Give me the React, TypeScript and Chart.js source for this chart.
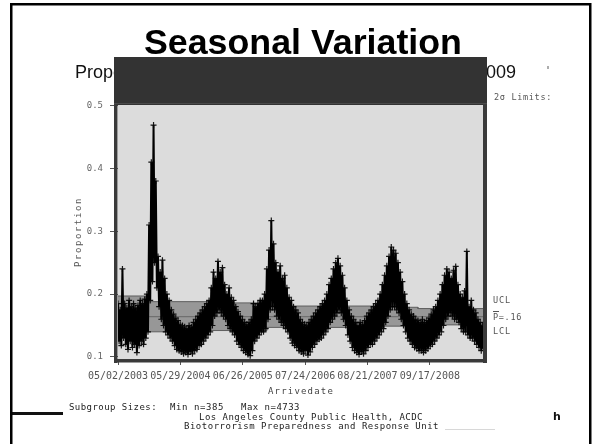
import { useEffect, useRef } from "react";
import { Chart, registerables } from "chart.js";

Chart.register(...registerables);

// ---------------- data ----------------
const START_DATE_UTC = Date.UTC(2003, 4, 2); // 05/02/2003
const SAMPLE_STEP_DAYS = 14;
const X_MAX_DAYS = 2300;
const xTickDays = [0, 393, 786, 1179, 1572, 1965];
const yTickValues = [0.1, 0.2, 0.3, 0.4, 0.5];

// upper / lower envelope of the daily proportion, read every 14 days
const upperEnvelope = [
  0.185, 0.175, 0.240, 0.185, 0.178, 0.190, 0.180, 0.185, 0.178, 0.182,
  0.190, 0.185, 0.192, 0.200, 0.310, 0.410, 0.469, 0.380, 0.260, 0.235,
  0.254, 0.225, 0.200, 0.190, 0.175, 0.168, 0.162, 0.158, 0.152, 0.150,
  0.148, 0.145, 0.150, 0.148, 0.155, 0.160, 0.165, 0.170, 0.175, 0.180,
  0.185, 0.190, 0.210, 0.235, 0.225, 0.252, 0.235, 0.242, 0.215, 0.200,
  0.210, 0.195, 0.190, 0.180, 0.172, 0.165, 0.160, 0.155, 0.152, 0.155,
  0.160, 0.185, 0.180, 0.185, 0.190, 0.190, 0.200, 0.240, 0.270, 0.317,
  0.280, 0.250, 0.235, 0.245, 0.225, 0.230, 0.210, 0.195, 0.190, 0.180,
  0.175, 0.170, 0.160, 0.155, 0.152, 0.150, 0.155, 0.160, 0.165, 0.170,
  0.175, 0.180, 0.185, 0.190, 0.200, 0.215, 0.225, 0.240, 0.250, 0.257,
  0.245, 0.230, 0.210, 0.190, 0.175, 0.165, 0.160, 0.155, 0.150, 0.155,
  0.152, 0.158, 0.165, 0.170, 0.175, 0.180, 0.185, 0.190, 0.200, 0.215,
  0.230, 0.245, 0.260, 0.275, 0.270, 0.265, 0.250, 0.235, 0.220, 0.200,
  0.185, 0.175, 0.168, 0.165, 0.160, 0.158, 0.155, 0.160, 0.155, 0.158,
  0.162, 0.168, 0.175, 0.180, 0.190, 0.200, 0.215, 0.230, 0.240, 0.235,
  0.225, 0.238, 0.244, 0.215, 0.200, 0.195, 0.205, 0.268, 0.180, 0.190,
  0.175, 0.170, 0.160, 0.155, 0.150,
];
const lowerEnvelope = [
  0.125, 0.118, 0.130, 0.120, 0.112, 0.125, 0.115, 0.120, 0.107, 0.118,
  0.125, 0.120, 0.130, 0.140, 0.190, 0.220, 0.250, 0.210, 0.180, 0.160,
  0.150, 0.140, 0.135, 0.130, 0.125, 0.118, 0.112, 0.110, 0.108, 0.105,
  0.107, 0.104, 0.108, 0.105, 0.110, 0.112, 0.118, 0.120, 0.125, 0.130,
  0.135, 0.140, 0.150, 0.165, 0.170, 0.175, 0.170, 0.165, 0.160, 0.150,
  0.145, 0.140, 0.135, 0.125, 0.120, 0.115, 0.110, 0.107, 0.104, 0.102,
  0.110, 0.125, 0.130, 0.135, 0.140, 0.140, 0.145, 0.160, 0.175, 0.180,
  0.175, 0.165, 0.160, 0.155, 0.150, 0.145, 0.140, 0.130, 0.122, 0.118,
  0.115, 0.110, 0.108, 0.105, 0.110, 0.103, 0.108, 0.115, 0.120, 0.125,
  0.128, 0.130, 0.135, 0.140, 0.145, 0.155, 0.160, 0.165, 0.170, 0.175,
  0.170, 0.160, 0.150, 0.135, 0.125, 0.115, 0.110, 0.107, 0.104, 0.108,
  0.105, 0.110, 0.115, 0.120, 0.120, 0.125, 0.130, 0.135, 0.140, 0.145,
  0.155, 0.165, 0.175, 0.180, 0.180, 0.175, 0.170, 0.160, 0.150, 0.140,
  0.130, 0.125, 0.120, 0.115, 0.113, 0.110, 0.110, 0.107, 0.110, 0.113,
  0.117, 0.120, 0.125, 0.130, 0.135, 0.140, 0.150, 0.160, 0.165, 0.170,
  0.165, 0.160, 0.160, 0.155, 0.145, 0.140, 0.140, 0.135, 0.130, 0.130,
  0.125, 0.120, 0.115, 0.110, 0.113,
];

// 2-sigma control limits (step changes with subgroup size)
const limitStartDays = [0, 176, 580, 939, 1619, 1890];
const uclValues = [0.197, 0.188, 0.186, 0.181, 0.179, 0.177];
const lclValues = [0.131, 0.140, 0.142, 0.147, 0.149, 0.151];
const centerValue = 0.164;

// ---------------- helpers ----------------
function fmtDate(days: number) {
  const d = new Date(START_DATE_UTC + Math.round(days) * 86400000);
  const mm = String(d.getUTCMonth() + 1).padStart(2, "0");
  const dd = String(d.getUTCDate()).padStart(2, "0");
  return `${mm}/${dd}/${d.getUTCFullYear()}`;
}

function stepPoints(values: number[]) {
  const pts: { x: number; y: number }[] = [];
  values.forEach((v, i) => {
    const s = limitStartDays[i];
    const e = i + 1 < limitStartDays.length ? limitStartDays[i + 1] : X_MAX_DAYS;
    pts.push({ x: s, y: v }, { x: e, y: v });
  });
  return pts;
}

function seriesPoints() {
  const pts: { x: number; y: number }[] = [];
  upperEnvelope.forEach((u, i) => {
    pts.push({ x: i * SAMPLE_STEP_DAYS, y: u });
    pts.push({ x: i * SAMPLE_STEP_DAYS + SAMPLE_STEP_DAYS / 2, y: lowerEnvelope[i] });
  });
  return pts;
}

function spacedText(
  ctx: CanvasRenderingContext2D,
  text: string,
  x: number,
  y: number,
  width: number,
  font: string,
  color: string
) {
  ctx.save();
  ctx.font = font;
  ctx.fillStyle = color;
  ctx.textBaseline = "middle";
  ctx.textAlign = "left";
  (ctx as any).letterSpacing = "0px";
  const natural = ctx.measureText(text).width;
  const sp = (width - natural) / Math.max(1, text.length);
  (ctx as any).letterSpacing = `${sp}px`;
  ctx.fillText(text, x, y);
  ctx.restore();
}

const decorPlugin = {
  id: "decor",
  beforeDraw(chart: any) {
    const { ctx, chartArea: a } = chart;
    ctx.save();
    ctx.fillStyle = "#ffffff";
    ctx.fillRect(0, 0, chart.width, chart.height);
    ctx.fillStyle = "#dcdcdc";
    ctx.fillRect(a.left, a.top, a.right - a.left, a.bottom - a.top);
    ctx.restore();
  },
  afterDraw(chart: any) {
    const { ctx, chartArea: a } = chart;
    ctx.save();

    // slide title
    ctx.fillStyle = "#000";
    ctx.textBaseline = "alphabetic";
    ctx.textAlign = "left";
    ctx.font = "bold 100px 'Liberation Sans', Arial, sans-serif";
    const tw = ctx.measureText("Seasonal Variation").width;
    const tSize = (100 * 318) / tw;
    ctx.font = `bold ${tSize}px 'Liberation Sans', Arial, sans-serif`;
    ctx.fillText("Seasonal Variation", 144, 54);

    // partly hidden subtitle
    ctx.font = "18px 'Liberation Sans', Arial, sans-serif";
    ctx.fillStyle = "#111";
    ctx.fillText("Proportion", 75, 78);
    ctx.textAlign = "right";
    ctx.fillText("2009", 516, 78);
    ctx.textAlign = "left";
    ctx.font = "10px 'DejaVu Sans Mono', monospace";
    ctx.fillStyle = "#444";
    ctx.fillText("'", 545, 74);

    // dark band over the subtitle
    ctx.fillStyle = "#333333";
    ctx.fillRect(a.left - 4, 57, a.right - a.left + 8, a.top - 57);
    ctx.fillStyle = "#4a4a4a";
    ctx.fillRect(a.left - 4, a.top - 2, a.right - a.left + 8, 1);

    // plot frame
    ctx.fillStyle = "#3a3a3a";
    ctx.fillRect(a.left - 4, a.top - 1, 3.5, a.bottom - a.top + 5);
    ctx.fillRect(a.right, a.top - 1, 4, a.bottom - a.top + 5);
    ctx.fillRect(a.left - 4, a.bottom, a.right - a.left + 8, 3.5);

    // axis titles
    ctx.save();
    ctx.translate(79, 232);
    ctx.rotate(-Math.PI / 2);
    spacedText(ctx, "Proportion", -35, 0, 70, "9px 'DejaVu Sans Mono', monospace", "#555");
    ctx.restore();
    spacedText(ctx, "Arrivedate", 268, 392, 66, "9px 'DejaVu Sans Mono', monospace", "#444");

    // limit labels
    const mono8 = "8.5px 'DejaVu Sans Mono', monospace";
    spacedText(ctx, "2\u03C3 Limits:", 494, 98, 58, mono8, "#555");
    spacedText(ctx, "UCL", 493, 301, 18, mono8, "#555");
    spacedText(ctx, "P=.16", 493, 318, 29, mono8, "#555");
    ctx.fillStyle = "#555";
    ctx.fillRect(493, 311, 6, 1);
    spacedText(ctx, "LCL", 493, 332, 18, mono8, "#555");

    // footer text
    const mono9 = "9px 'DejaVu Sans Mono', monospace";
    spacedText(ctx, "Subgroup Sizes:", 69, 408, 88, mono9, "#222");
    spacedText(ctx, "Min n=385", 170, 408, 54, mono9, "#222");
    spacedText(ctx, "Max n=4733", 241, 408, 59, mono9, "#222");
    spacedText(ctx, "Los Angeles County Public Health, ACDC", 199, 418, 224, mono9, "#222");
    spacedText(ctx, "Biotorrorism Preparedness and Response Unit", 184, 427, 255, mono9, "#222");
    ctx.fillStyle = "#d8d8d8";
    ctx.fillRect(445, 429, 50, 1);

    ctx.fillStyle = "#111";
    ctx.fillRect(12, 412, 51, 3);
    ctx.font = "bold 11px 'DejaVu Sans', sans-serif";
    ctx.fillStyle = "#111";
    ctx.textBaseline = "middle";
    ctx.fillText("h", 553, 417);

    // slide border
    ctx.strokeStyle = "#000";
    ctx.lineWidth = 2.5;
    ctx.strokeRect(11.25, 4.25, 579, 460);

    ctx.restore();
  },
};

export default function App() {
  const ref = useRef<HTMLCanvasElement | null>(null);

  useEffect(() => {
    if (!ref.current) return;
    const chart = new Chart(ref.current, {
      type: "line",
      data: {
        datasets: [
          {
            label: "Proportion",
            data: seriesPoints(),
            borderColor: "#000",
            borderWidth: 2,
            pointStyle: "cross",
            pointRadius: 3,
            pointBorderColor: "rgba(0,0,0,0.9)",
            pointBorderWidth: 1.2,
            tension: 0,
            fill: false,
            order: 0,
          },
          {
            label: "UCL",
            data: stepPoints(uclValues),
            borderColor: "#5e5e5e",
            borderWidth: 1,
            pointRadius: 0,
            fill: false,
            order: 2,
          },
          {
            label: "LCL",
            data: stepPoints(lclValues),
            borderColor: "#5e5e5e",
            borderWidth: 1,
            pointRadius: 0,
            fill: "-1",
            backgroundColor: "#979797",
            order: 3,
          },
          {
            label: "P",
            data: [
              { x: 0, y: centerValue },
              { x: X_MAX_DAYS, y: centerValue },
            ],
            borderColor: "#707070",
            borderWidth: 1.2,
            pointRadius: 0,
            fill: false,
            order: 1,
          },
        ],
      },
      options: {
        animation: false,
        responsive: false,
        devicePixelRatio: 1,
        layout: { padding: { left: 0, right: 117, top: 105, bottom: 55 } },
        plugins: {
          legend: { display: false },
          tooltip: { enabled: false },
          title: { display: false },
        },
        scales: {
          x: {
            type: "linear",
            min: 0,
            max: X_MAX_DAYS,
            afterBuildTicks: (s: any) => {
              s.ticks = xTickDays.map((v) => ({ value: v }));
            },
            afterFit: (s: any) => {
              s.height = 30;
            },
            grid: {
              display: true,
              drawOnChartArea: false,
              drawTicks: true,
              tickLength: 6,
              color: "#555",
            },
            border: { display: false },
            ticks: {
              autoSkip: false,
              maxRotation: 0,
              padding: 5,
              color: "#555",
              font: { family: "'DejaVu Sans Mono', monospace", size: 10 },
              callback: (v: any) => fmtDate(Number(v)),
            },
          },
          y: {
            type: "linear",
            min: 0.0967,
            max: 0.501,
            afterBuildTicks: (s: any) => {
              s.ticks = yTickValues.map((v) => ({ value: v }));
            },
            afterFit: (s: any) => {
              s.width = 118;
            },
            grid: {
              display: true,
              drawOnChartArea: false,
              drawTicks: true,
              tickLength: 8,
              color: "#555",
            },
            border: { display: false },
            ticks: {
              padding: 7,
              color: "#666",
              font: { family: "'DejaVu Sans Mono', monospace", size: 9 },
              callback: (v: any) => Number(v).toFixed(1),
            },
          },
        },
      },
      plugins: [decorPlugin],
    });
    return () => chart.destroy();
  }, []);

  return (
    <canvas
      ref={ref}
      width={600}
      height={444}
      style={{ position: "fixed", left: 0, top: 0, width: 600, height: 444 }}
    />
  );
}
